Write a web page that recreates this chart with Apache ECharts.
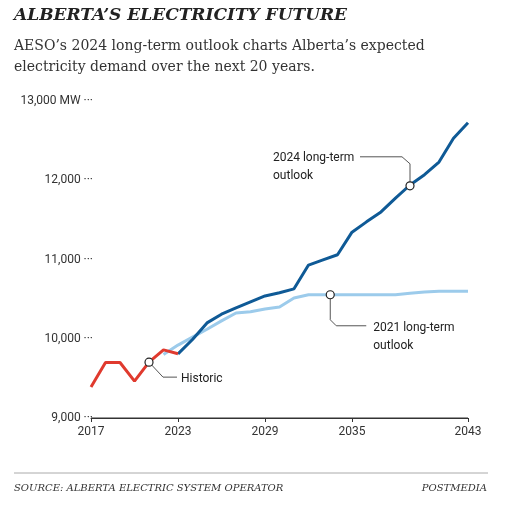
<!DOCTYPE html>
<html><head><meta charset="utf-8">
<script src="https://cdn.jsdelivr.net/npm/echarts@6/dist/echarts.min.js"></script>
<style>body{margin:0;background:#fff}#c{width:513px;height:505px}</style>
</head><body><div id="c"></div>
<script>
const historicYears=[2017,2018,2019,2020,2021,2022,2023];
const historicVals=[9390,9700,9700,9465,9705,9860,9810];
const out2024Years=[2023,2024,2025,2026,2027,2028,2029,2030,2031,2032,2033,2034,2035,2036,2037,2038,2039,2040,2041,2042,2043];
const out2024Vals=[9810,9990,10200,10310,10390,10465,10540,10580,10630,10930,10995,11060,11345,11475,11600,11775,11940,12070,12230,12530,12725];
const out2021Years=[2022,2023,2024,2025,2026,2027,2028,2029,2030,2031,2032,2033,2034,2035,2036,2037,2038,2039,2040,2041,2042,2043];
const out2021Vals=[9800,9920,10020,10120,10225,10325,10340,10375,10400,10515,10555,10555,10555,10555,10555,10555,10555,10575,10590,10600,10600,10600];
const xTickLabels=[2017,2023,2029,2035,2043];
const yTicks=[9000,10000,11000,12000,13000];
const serif='"DejaVu Serif", "Liberation Serif", serif';
const sans='Roboto, "Noto Sans", sans-serif';
const z=(a,b)=>a.map((v,i)=>[v,b[i]]);
const ch=echarts.init(document.getElementById('c'));
ch.setOption({
  animation:false,
  grid:{left:91,right:45,top:101,bottom:87},
  xAxis:{type:'value',min:2017,max:2043,splitLine:{show:false},
    axisLine:{lineStyle:{color:'#333',width:1}},
    axisTick:{customValues:xTickLabels,length:4,lineStyle:{color:'#333'}},
    axisLabel:{customValues:xTickLabels,color:'#333',fontFamily:sans,fontSize:12,margin:8,formatter:v=>String(v)}},
  yAxis:{type:'value',min:9000,max:13000,interval:1000,axisLine:{show:false},axisTick:{show:false},
    splitLine:{show:false},
    axisLabel:{color:'#333',fontFamily:sans,fontSize:12,margin:-2,
      formatter:v=>(v===13000?'13,000 MW':v.toLocaleString('en-US'))+' ···'}},
  series:[
    {type:'line',data:z(out2021Years,out2021Vals),symbol:'none',lineStyle:{color:'#9ccbeb',width:3}},
    {type:'line',data:z(out2024Years,out2024Vals),symbol:'none',lineStyle:{color:'#0f5a96',width:3}},
    {type:'line',data:z(historicYears,historicVals),symbol:'none',lineStyle:{color:'#e03a2e',width:3}}
  ],
  graphic:[
    {type:'text',left:14,top:7,style:{text:'ALBERTA’S ELECTRICITY FUTURE',font:'italic bold 17px '+serif,fill:'#222',letterSpacing:3}},
    {type:'text',left:14,top:36,style:{text:'AESO’s 2024 long-term outlook charts Alberta’s expected\nelectricity demand over the next 20 years.',font:'14px '+serif,fill:'#333',lineHeight:21}},
    {type:'line',shape:{x1:14,y1:473,x2:488,y2:473},style:{stroke:'#aaa',lineWidth:1}},
    {type:'text',left:14,top:483,style:{text:'SOURCE: ALBERTA ELECTRIC SYSTEM OPERATOR',font:'italic 10px '+serif,fill:'#333',letterSpacing:0.8}},
    {type:'text',right:26,top:483,style:{text:'POSTMEDIA',font:'italic 10px '+serif,fill:'#333',letterSpacing:0.8}}
  ]
});
const p=(x,y)=>ch.convertToPixel({gridIndex:0},[x,y]);
const b0=p(2017,9000),b1=p(2043,9000);
const g=[];
const circ=(c)=>g.push({type:'circle',shape:{cx:c[0],cy:c[1],r:4},style:{fill:'#fff',stroke:'#222',lineWidth:1.2},z:10});
const pl=(pts)=>g.push({type:'polyline',shape:{points:pts},style:{stroke:'#555',lineWidth:1,fill:null},z:9});
const tx=(x,y,t)=>g.push({type:'text',x:x,y:y,style:{text:t,font:'12px '+sans,fill:'#222',lineHeight:18},z:11});
const h=p(2021,9705);
pl([h,[h[0]+14,h[1]+15],[h[0]+28,h[1]+15]]);circ(h);tx(h[0]+32,h[1]+8,'Historic');
const o1=p(2033.5,10555);
pl([o1,[o1[0],o1[1]+25],[o1[0]+6,o1[1]+31],[o1[0]+36,o1[1]+31]]);circ(o1);tx(o1[0]+43,o1[1]+24,'2021 long-term\noutlook');
const o2=p(2039,11930);
pl([o2,[o2[0],o2[1]-22],[o2[0]-8,o2[1]-29],[o2[0]-50,o2[1]-29]]);circ(o2);tx(o2[0]-137,o2[1]-37,'2024 long-term\noutlook');
ch.setOption({graphic:ch.getOption().graphic[0].elements.concat(g).concat([{type:'line',shape:{x1:b0[0],y1:b0[1],x2:b1[0],y2:b1[1]},style:{stroke:'#333',lineWidth:1}}])});
</script></body></html>
